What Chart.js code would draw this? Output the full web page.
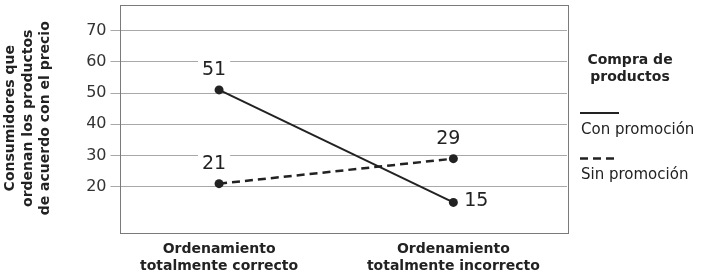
<!DOCTYPE html>
<html>
<head>
<meta charset="utf-8">
<script src="https://cdn.jsdelivr.net/npm/chart.js@4/dist/chart.umd.min.js"></script>
<style>
  html, body { margin: 0; padding: 0; background: #fff; }
  canvas { display: block; }
</style>
</head>
<body>
<canvas id="promoChart" width="705" height="273"></canvas>
<script>
const categories = [["Ordenamiento", "totalmente correcto"], ["Ordenamiento", "totalmente incorrecto"]];
const seriesNames = ["Con promoción", "Sin promoción"];
const conPromocion = [51, 15];
const sinPromocion = [21, 29];
const yTicks = [20, 30, 40, 50, 60, 70];
const yTitle = ["Consumidores que", "ordenan los productos", "de acuerdo con el precio"];
const legendTitle = ["Compra de", "productos"];

const ink = "#222";
const FONT = "'DejaVu Sans', sans-serif";

// where each value label sits relative to its point
const labelPlacement = [["above", "right"], ["above", "above"]];

const toPoints = arr => arr.map((v, i) => ({ x: i, y: v }));

const boxPlugin = {
  id: "box",
  beforeDatasetsDraw(chart) {
    const { ctx, chartArea: a } = chart;
    ctx.save();
    ctx.strokeStyle = "#7a7a7a";
    ctx.lineWidth = 1;
    ctx.strokeRect(Math.round(a.left) + 0.5, Math.round(a.top) + 0.5, Math.round(a.right - a.left), Math.round(a.bottom - a.top));
    ctx.restore();
  }
};

const valueLabels = {
  id: "valueLabels",
  afterDatasetsDraw(chart) {
    const { ctx } = chart;
    ctx.save();
    ctx.font = "19px " + FONT;
    ctx.textAlign = "center";
    ctx.textBaseline = "middle";
    chart.data.datasets.forEach((ds, di) => {
      chart.getDatasetMeta(di).data.forEach((pt, i) => {
        const txt = String(ds.data[i].y);
        const place = labelPlacement[di][i];
        let x = pt.x, y = pt.y;
        if (place === "above") { x -= 5; y -= 21; }
        else { x += 23; y -= 2; }
        const w = ctx.measureText(txt).width;
        ctx.fillStyle = "#fff";
        ctx.fillRect(x - w / 2 - 4, y - 9, w + 8, 18);
        ctx.fillStyle = ink;
        ctx.fillText(txt, x, y + 1);
      });
    });
    ctx.restore();
  }
};

const sideLegend = {
  id: "sideLegend",
  afterDraw(chart) {
    const { ctx, chartArea: a } = chart;
    const x0 = a.right + 13;
    ctx.save();
    ctx.fillStyle = ink;
    ctx.font = "bold 14px " + FONT;
    ctx.textAlign = "center";
    ctx.textBaseline = "middle";
    legendTitle.forEach((t, i) => ctx.fillText(t, x0 + 50, 60 + i * 17.5));
    ctx.font = "15px " + FONT;
    ctx.textAlign = "left";
    chart.data.datasets.forEach((ds, i) => {
      const ly = 113 + i * 45.5;
      ctx.strokeStyle = ds.borderColor;
      ctx.lineWidth = ds.borderWidth;
      ctx.setLineDash(ds.borderDash || []);
      ctx.beginPath();
      ctx.moveTo(x0, ly);
      ctx.lineTo(x0 + 39, ly);
      ctx.stroke();
      ctx.setLineDash([]);
      ctx.fillText(ds.label, x0 + 1, ly + 17);
    });
    ctx.restore();
  }
};

new Chart(document.getElementById("promoChart"), {
  type: "line",
  data: {
    datasets: [
      { label: seriesNames[0], data: toPoints(conPromocion), borderColor: ink, borderWidth: 2, pointRadius: 4.5, pointBackgroundColor: ink, pointBorderWidth: 0 },
      { label: seriesNames[1], data: toPoints(sinPromocion), borderColor: ink, borderWidth: 2.5, borderDash: [8, 5], pointRadius: 4.5, pointBackgroundColor: ink, pointBorderWidth: 0 }
    ]
  },
  options: {
    responsive: false,
    animation: false,
    devicePixelRatio: 1,
    layout: { padding: { top: 0, right: 138, left: 0, bottom: 0 } },
    plugins: { legend: { display: false }, tooltip: { enabled: false } },
    scales: {
      x: {
        type: "linear",
        min: -0.425,
        max: 1.485,
        afterBuildTicks: s => { s.ticks = categories.map((c, i) => ({ value: i })); },
        afterFit: s => { s.height = 41; s.paddingLeft = 0; s.paddingRight = 0; },
        border: { display: false },
        grid: { display: false, drawTicks: false },
        ticks: { color: ink, padding: 9, font: { family: FONT, size: 14, weight: "bold" }, callback: v => categories[v], maxRotation: 0, autoSkip: false }
      },
      y: {
        min: 5.54,
        max: 78.32,
        afterBuildTicks: s => { s.ticks = yTicks.map(v => ({ value: v })); },
        afterFit: s => { s.width = 119.5; s.paddingTop = 0; s.paddingBottom = 0; },
        border: { display: false },
        grid: { color: "#a8a8a8", lineWidth: 1, tickLength: 9, drawTicks: true },
        ticks: { color: "#333", padding: 4, font: { family: FONT, size: 16 } },
        title: { display: true, text: yTitle, color: ink, padding: { top: 2, bottom: 0 }, font: { family: FONT, size: 14, weight: "bold", lineHeight: 1.25 } }
      }
    }
  },
  plugins: [boxPlugin, valueLabels, sideLegend]
});
</script>
</body>
</html>
